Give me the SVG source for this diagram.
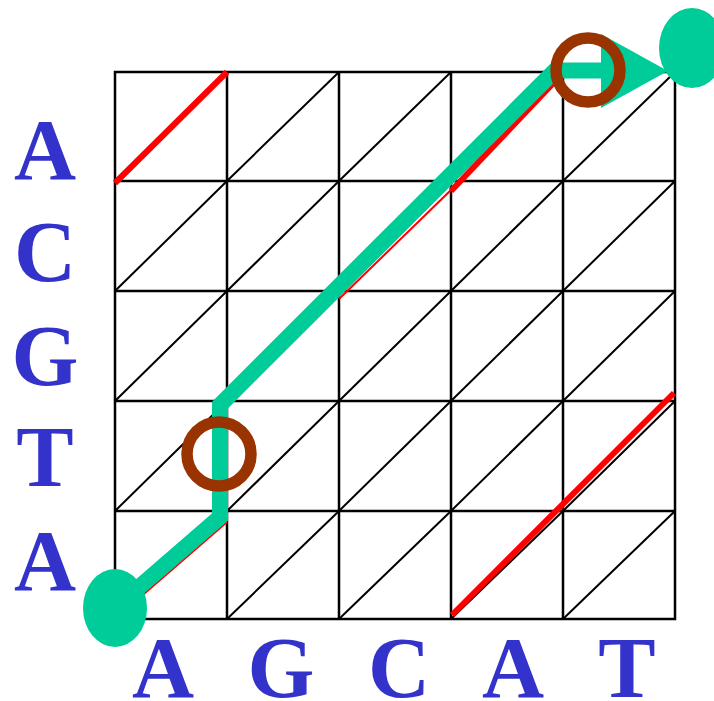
<svg xmlns="http://www.w3.org/2000/svg" width="714" height="701" viewBox="0 0 714 701">
<style>
.grid{stroke:#000;stroke-width:2.5;fill:none}
.diag{stroke:#000;stroke-width:2;fill:none}
.redthick{stroke:#FF0000;stroke-width:6;fill:none}
.redthin{stroke:#FF0000;stroke-width:2;fill:none}
.path{stroke:#00CC99;stroke-width:16;fill:none;stroke-linejoin:miter}
.teal{fill:#00CC99}
.ring{fill:none;stroke:#993300;stroke-width:11.5}
.lbl{font-family:"Liberation Serif","Times New Roman",serif;font-weight:bold;font-size:86px;fill:#3333CC;text-anchor:middle}
</style>
<rect width="714" height="701" fill="#fff"/>
<g id="grid">
<rect class="grid" x="115" y="72" width="560" height="547"/>
<path class="grid" d="M227 72V619M339 72V619M451 72V619M563 72V619M115 181H675M115 291H675M115 401H675M115 511H675"/>
<path class="diag" d="M115 181L227 72M227 181L339 72M339 181L451 72M451 181L563 72M563 181L675 72
M115 291L227 181M227 291L339 181M339 291L451 181M451 291L563 181M563 291L675 181
M115 401L227 291M227 401L339 291M339 401L451 291M451 401L563 291M563 401L675 291
M115 511L227 401M227 511L339 401M339 511L451 401M451 511L563 401M563 511L675 401
M115 619L227 511M227 619L339 511M339 619L451 511M451 619L563 511M563 619L675 511"/>
</g>
<g id="connectors">
<path class="redthick" d="M115 183L227 72"/>
<path class="redthick" d="M451 191L561 75"/>
<path class="redthin" d="M339 299L451 190"/>
<path class="redthin" d="M115 619L227 522"/>
<path class="redthick" d="M452 615L674 393"/>
<path class="path" d="M115 608L220 517V405L555 70.5H605"/>
<polygon class="teal" points="601,34 668,71 601,108"/>
</g>
<g id="start"><ellipse class="teal" cx="115" cy="608" rx="32" ry="39"/></g>
<g id="end"><ellipse class="teal" cx="692" cy="48" rx="33" ry="40"/></g>
<g id="ring1"><circle class="ring" cx="219" cy="454" r="32"/></g>
<g id="ring2"><circle class="ring" cx="588" cy="70" r="32"/></g>
<g id="labels">
<text class="lbl" x="45" y="179">A</text>
<text class="lbl" x="45" y="281">C</text>
<text class="lbl" x="45" y="385">G</text>
<text class="lbl" x="45" y="486">T</text>
<text class="lbl" x="45" y="590">A</text>
<text class="lbl" x="163" y="697">A</text>
<text class="lbl" x="281" y="697">G</text>
<text class="lbl" x="399" y="697">C</text>
<text class="lbl" x="513" y="697">A</text>
<text class="lbl" x="627" y="697">T</text>
</g>
</svg>
